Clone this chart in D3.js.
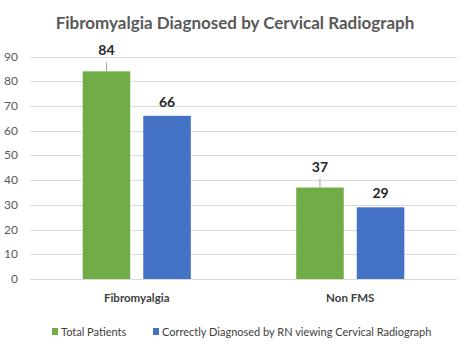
<!DOCTYPE html>
<html>
<meta charset="utf-8">
<head>
<script src="https://cdn.jsdelivr.net/npm/d3@7"></script>
<style>
  body { margin: 0; background: #fff; }
  text { font-family: Lato, "Open Sans", sans-serif; }
</style>
</head>
<body>
<div id="chart"></div>
<script>

var categories = ["Fibromyalgia", "Non FMS"];
var series = ["Total Patients", "Correctly Diagnosed by RN viewing Cervical Radiograph"];
var totalPatients = [84, 37];
var correctlyDiagnosed = [66, 29];
var yTicks = [0, 10, 20, 30, 40, 50, 60, 70, 80, 90];
var colors = ["#70ad47", "#4472c4"];

var W = 471, H = 353;
var plotL = 30, plotR = 457, plotT = 56.5, plotB = 279;

var svg = d3.select("#chart").append("svg")
    .attr("width", W).attr("height", H);

svg.append("rect").attr("width", W).attr("height", H).attr("fill", "#fff");

// title
svg.append("text")
    .attr("x", 235).attr("y", 29)
    .attr("text-anchor", "middle")
    .attr("font-size", 17)
    .attr("font-weight", "bold")
    .attr("fill", "#595959")
    .text("Fibromyalgia Diagnosed by Cervical Radiograph");

var y = d3.scaleLinear().domain([0, 90]).range([plotB, plotT]);
var x0 = d3.scaleBand().domain(categories).range([plotL, plotR]).paddingInner(0).paddingOuter(0);
var x1 = d3.scaleBand().domain(series).range([0, x0.bandwidth()]).paddingInner(0.215).paddingOuter(0.87);

// gridlines + y labels
var grid = svg.append("g");
grid.selectAll("line").data(yTicks).enter().append("line")
    .attr("x1", plotL).attr("x2", plotR)
    .attr("y1", function(d){ return Math.round(y(d)) + 0.5; })
    .attr("y2", function(d){ return Math.round(y(d)) + 0.5; })
    .attr("stroke", "#d9d9d9").attr("stroke-width", 1);

grid.selectAll("text").data(yTicks).enter().append("text")
    .attr("x", 18).attr("y", function(d){ return y(d) + 4; })
    .attr("text-anchor", "end")
    .attr("font-size", 12)
    .attr("fill", "#595959")
    .text(function(d){ return d; });

var rows = categories.map(function(c, i){
    return { cat: c, vals: [totalPatients[i], correctlyDiagnosed[i]] };
});

var groups = svg.selectAll("g.cat").data(rows).enter().append("g")
    .attr("class", "cat")
    .attr("transform", function(d){ return "translate(" + x0(d.cat) + ",0)"; });

var bars = groups.selectAll("g.bar")
    .data(function(d){ return d.vals.map(function(v, j){ return { s: series[j], v: v, j: j }; }); })
    .enter().append("g").attr("class", "bar");

bars.append("rect")
    .attr("x", function(d){ return x1(d.s); })
    .attr("y", function(d){ return y(d.v); })
    .attr("width", x1.bandwidth())
    .attr("height", function(d){ return y(0) - y(d.v); })
    .attr("fill", function(d){ return colors[d.j]; });

// small leader line above green bars
bars.filter(function(d){ return d.j === 0; }).append("line")
    .attr("x1", function(d){ return x1(d.s) + x1.bandwidth() / 2; })
    .attr("x2", function(d){ return x1(d.s) + x1.bandwidth() / 2; })
    .attr("y1", function(d){ return y(d.v); })
    .attr("y2", function(d){ return y(d.v) - 9; })
    .attr("stroke", "#a6a6a6").attr("stroke-width", 1);

bars.append("text")
    .attr("x", function(d){ return x1(d.s) + x1.bandwidth() / 2; })
    .attr("y", function(d){ return d.j === 0 ? y(d.v) - 16 : y(d.v) - 9; })
    .attr("text-anchor", "middle")
    .attr("font-size", 14)
    .attr("font-weight", "bold")
    .attr("fill", "#262626")
    .text(function(d){ return d.v; });

// category labels
svg.selectAll("text.cat").data(categories).enter().append("text")
    .attr("class", "cat")
    .attr("x", function(d){ return x0(d) + x0.bandwidth() / 2; })
    .attr("y", 302)
    .attr("text-anchor", "middle")
    .attr("font-size", 11.5)
    .attr("font-weight", "bold")
    .attr("fill", "#404040")
    .text(function(d){ return d; });

// legend
var legendX = [52, 153];
var legend = svg.selectAll("g.leg").data(series).enter().append("g")
    .attr("class", "leg")
    .attr("transform", function(d, i){ return "translate(" + legendX[i] + ",332)"; });
legend.append("rect")
    .attr("x", 0).attr("y", -4).attr("width", 6).attr("height", 7)
    .attr("fill", function(d, i){ return colors[i]; });
legend.append("text")
    .attr("x", 9).attr("y", 4)
    .attr("font-size", 11)
    .attr("fill", "#404040")
    .text(function(d){ return d; });

</script>
</body>
</html>
